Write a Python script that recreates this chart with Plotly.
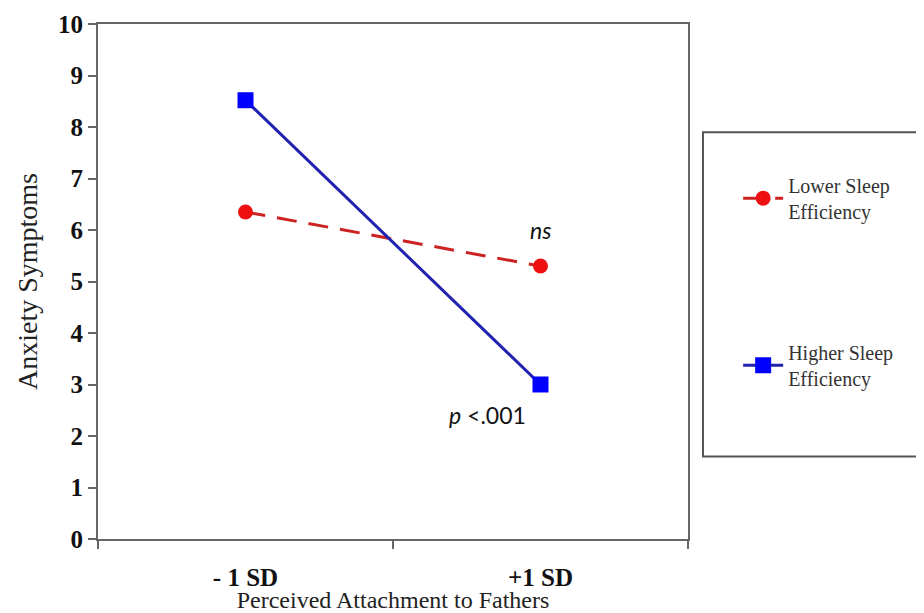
import plotly.graph_objects as go

categories = ["- 1 SD", "+1 SD"]
lower_sleep = [6.35, 5.3]
higher_sleep = [8.52, 3.0]
series_names = ["Lower Sleep<br>Efficiency", "Higher Sleep<br>Efficiency"]
y_ticks = list(range(0, 11))

fig = go.Figure()
fig.add_trace(go.Scatter(
    x=categories, y=lower_sleep, name=series_names[0], mode="lines+markers",
    line=dict(color="#CC2222", width=3, dash="20px,12px"),
    marker=dict(symbol="circle", size=15, color="#EE1111"),
    legendgroup="a",
))
fig.add_trace(go.Scatter(
    x=categories, y=higher_sleep, name=series_names[1], mode="lines+markers",
    line=dict(color="#2222B0", width=3),
    marker=dict(symbol="square", size=16, color="#0000FF"),
    legendgroup="b",
))

fig.add_annotation(x=1, y=6.0, text="<i>ns</i>", showarrow=False,
                   font=dict(family="Lato", size=23, color="#111"))
fig.add_annotation(x=0.82, y=2.4, text="<i>p</i> <.001", showarrow=False,
                   font=dict(family="Lato", size=23, color="#111"))

fig.add_shape(type="rect", xref="paper", yref="paper",
              x0=1.0254, x1=1.395, y0=0.16, y1=0.79,
              line=dict(color="#555", width=2), fillcolor="rgba(0,0,0,0)")

# page body has an 8px default margin, so the figure is offset by 8px
fig.update_layout(
    width=916, height=605, autosize=False,
    margin=dict(l=90, r=236, t=16, b=74),
    plot_bgcolor="white", paper_bgcolor="white",
    font=dict(family="Liberation Serif", color="#111"),
    showlegend=True,
    legend=dict(x=1.085, y=0.725, xanchor="left", yanchor="top",
                tracegroupgap=112, bgcolor="rgba(0,0,0,0)",
                font=dict(family="Liberation Serif", size=20, color="#333"),
                itemwidth=40),
    xaxis=dict(
        type="category", range=[-0.5, 1.5], tickson="boundaries",
        automargin=False, ticklabeloverflow="allow",
        showline=True, linecolor="#666", linewidth=2, mirror=True,
        ticks="outside", ticklen=8, tickcolor="#666", tickwidth=2,
        tickfont=dict(family="Liberation Serif", size=25, color="#111", weight="bold"),
        ticklabelstandoff=15,
        showgrid=False, zeroline=False,
        title=dict(text="Perceived Attachment to Fathers", standoff=0,
                   font=dict(family="Liberation Serif", size=24, color="#222")),
    ),
    yaxis=dict(
        range=[0, 10], tickvals=y_ticks, automargin=False,
        ticklabeloverflow="allow",
        showline=True, linecolor="#666", linewidth=2, mirror=True,
        ticks="outside", ticklen=8, tickcolor="#666", tickwidth=2,
        tickfont=dict(family="Liberation Serif", size=25, color="#111", weight="bold"),
        showgrid=False, zeroline=False,
        title=dict(text="Anxiety Symptoms", standoff=12,
                   font=dict(family="Liberation Serif", size=28, color="#222")),
    ),
)

fig.write_html("out.html")
